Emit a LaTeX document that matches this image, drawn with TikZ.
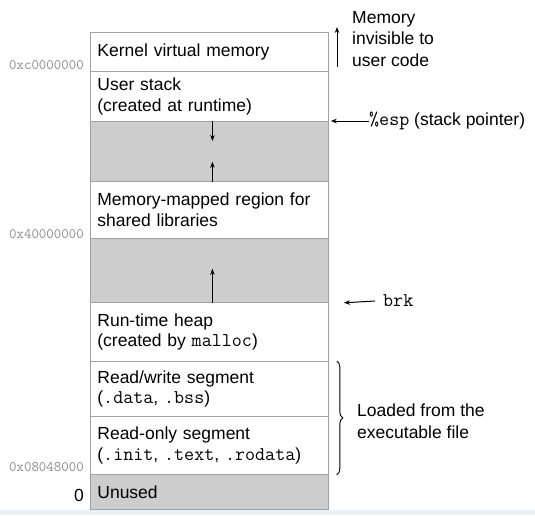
\documentclass[tikz,border=0pt]{standalone}
\usepackage{fontspec}
\setmainfont{Liberation Sans}
\usetikzlibrary{arrows.meta,decorations.pathreplacing,calc}
\definecolor{segfill}{HTML}{CDCDCD}
\definecolor{segline}{HTML}{A0A0A0}
\definecolor{addrgray}{HTML}{8A8A8A}
\definecolor{bandblue}{HTML}{EAF2F8}
\newcommand\cde[1]{{\fontsize{19.5}{20.5}\ttfamily #1}}
\tikzset{
  seg/.style={draw=segline, line width=0.8pt, rectangle, anchor=north west,
    minimum width=238pt, text width=224pt, inner xsep=7pt, inner ysep=0pt,
    align=left, font=\fontsize{17.5}{20.5}\selectfont},
  gap/.style={seg, fill=segfill},
  addr/.style={anchor=east, inner sep=0pt, text=addrgray, font=\fontsize{14.5}{15}\ttfamily},
  lbl/.style={anchor=west, inner sep=0pt, align=left, font=\fontsize{17.5}{21.5}\selectfont},
  arr/.style={-{Stealth[length=6pt,width=4.5pt]}, line width=1pt, black},
}
\begin{document}
\begin{tikzpicture}[x=1pt,y=-1pt]
\fill[white] (0,0) rectangle (535,515);
\fill[bandblue] (0,510) rectangle (535,515);
\useasboundingbox (0,0) rectangle (535,515);

\node[seg, minimum height=39pt] (kern) at (90,32) {Kernel virtual memory};
\node[seg, minimum height=50pt] (ustack) at (90,71) {User stack\\(created at runtime)};
\node[gap, minimum height=60pt] (g1) at (90,121) {};
\node[seg, minimum height=57pt] (mmap) at (90,181) {Memory-mapped region for\\shared libraries};
\node[gap, minimum height=64pt] (g2) at (90,238) {};
\node[seg, minimum height=59pt] (heap) at (90,302) {Run-time heap\\(created by \cde{malloc})};
\node[seg, minimum height=55pt] (rw) at (90,361) {Read/write segment\\(\cde{.data}, \cde{.bss})};
\node[seg, minimum height=58pt] (ro) at (90,416) {Read-only segment\\(\cde{.init}, \cde{.text}, \cde{.rodata})};
\node[gap, minimum height=35pt] (unused) at (90,474) {Unused};

% growth arrows
\draw[arr] ([xshift=3pt]g1.north) -- ++(0,20);
\draw[arr] ([xshift=3pt]g1.south) -- ++(0,-20);
\draw[arr] ([xshift=3pt]g2.south) -- ++(0,-34);

% addresses
\node[addr] (a1) at (84,65) {0xc0000000};
\node[addr] (a2) at (84,234) {0x40000000};
\node[addr] (a3) at (84,467) {0x08048000};
\node[anchor=east, inner sep=0pt, font=\fontsize{17.5}{20}\selectfont] (a0) at (84,495) {0};

% right side
\coordinate (kb) at (337,67);
\coordinate (kt) at (337,27);
\draw[arr] (kb) -- (kt);
\node[lbl] (kl) at (352,39) {Memory\\invisible to\\user code};

\node[lbl] (esp) at (369,121) {\cde{\%esp} (stack pointer)};
\draw[arr] (esp.west) -- ([xshift=2pt]g1.north east);

\node[lbl] (brk) at (383,301) {\cde{brk}};
\draw[arr] ([xshift=-8pt]brk.west) -- ([xshift=15pt]g2.south east);

\draw[line width=0.9pt, decorate, decoration={brace, amplitude=6pt}]
  ([xshift=8pt]rw.north east) -- ([xshift=8pt]ro.south east);
\node[lbl] (load) at (357,421) {Loaded from the\\executable file};
\end{tikzpicture}
\end{document}
